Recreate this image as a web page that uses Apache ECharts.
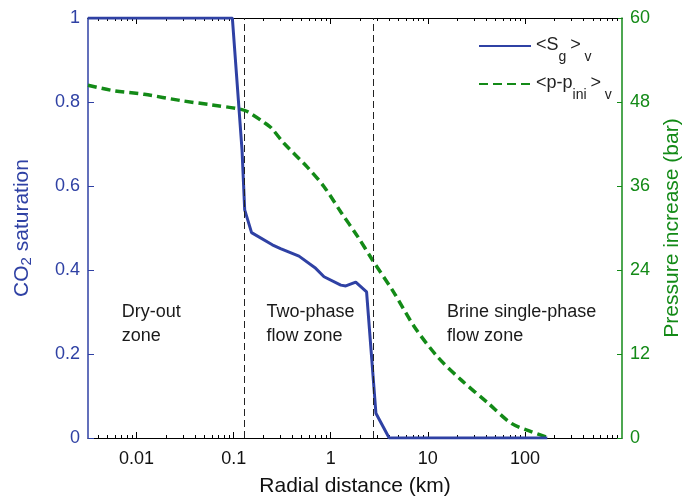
<!DOCTYPE html>
<html>
<head>
<meta charset="utf-8">
<script src="https://cdn.jsdelivr.net/npm/echarts@6/dist/echarts.min.js"></script>
<style>
  html, body { margin: 0; padding: 0; background: #fff; }
  #chart { width: 686px; height: 497px; }
</style>
</head>
<body>
<div id="chart"></div>
<script>
// Volume-averaged CO2 saturation and pressure increase versus radial distance
const satDistKm = [0.00316, 0.097, 0.122, 0.130, 0.153, 0.25, 0.304, 0.471, 0.70, 0.853, 1.27, 1.43, 1.81, 2.34, 2.92, 4.0, 170];
const satValues = [1, 1, 0.686, 0.543, 0.489, 0.46, 0.451, 0.433, 0.404, 0.384, 0.364, 0.362, 0.371, 0.348, 0.059, 0, 0];

const presDistKm = [0.00316, 0.0059, 0.012, 0.0287, 0.0586, 0.115, 0.14, 0.205, 0.244, 0.33, 0.574, 0.853, 1.27, 1.89, 2.70, 4.51, 7.26, 12.6, 22.0, 41.6, 72.4, 116, 170];
const presBar = [50.4, 49.6, 49.1, 48.2, 47.6, 47.0, 46.6, 45.1, 44.3, 42.1, 38.7, 35.9, 32.3, 28.8, 25.4, 20.7, 15.9, 11.6, 8.3, 5.0, 2.1, 0.9, 0.1];

// Zone boundaries (km)
const zoneBounds = [0.13, 2.75];

// Zone annotations: [x (km), CO2 saturation, text]
const zoneLabels = [
  [0.00703, 0.271, 'Dry-out\nzone'],
  [0.218, 0.271, 'Two-phase\nflow zone'],
  [15.8, 0.271, 'Brine single-phase\nflow zone']
];

// Axis ticks
const xMin = Math.pow(10, -2.5);
const xMax = 1000;
const xMajorTicks = [0.01, 0.1, 1, 10, 100];
const xMinorTicks = [];
for (let d = -3; d <= 2; d++) {
  for (let k = 2; k <= 9; k++) {
    const v = +(k * Math.pow(10, d)).toPrecision(6);
    if (v > xMin && v < xMax) xMinorTicks.push(v);
  }
}

const BLUE = '#2f41a4';
const GREEN = '#138a17';
const FONT = '"Liberation Sans", Arial, Helvetica, sans-serif';

const chart = echarts.init(document.getElementById('chart'), null, { renderer: 'canvas' });

function xAxisDef(position, ticks, len, withLabels, withLine) {
  return {
    type: 'log',
    logBase: 10,
    min: xMin,
    max: xMax,
    position: position,
    axisLine: { show: withLine, onZero: false, lineStyle: { color: '#000', width: 1 } },
    axisTick: { show: true, inside: true, length: len, customValues: ticks, lineStyle: { color: '#000', width: 1 } },
    axisLabel: withLabels ? {
      show: true, customValues: xMajorTicks, color: '#111', fontSize: 18, fontFamily: FONT, margin: 12,
      formatter: v => String(+(+v).toPrecision(6))
    } : { show: false },
    splitLine: { show: false },
    minorTick: { show: false }
  };
}

const xAxes = [
  Object.assign(xAxisDef('bottom', xMajorTicks, 6, true, true), {
    name: 'Radial distance (km)',
    nameLocation: 'middle',
    nameGap: 38,
    nameTextStyle: { color: '#111', fontSize: 21, fontFamily: FONT }
  }),
  xAxisDef('bottom', xMinorTicks, 3, false, false),
  xAxisDef('top', xMajorTicks, 6, false, true),
  xAxisDef('top', xMinorTicks, 3, false, false)
];

const option = {
  animation: false,
  backgroundColor: '#fff',
  textStyle: { fontFamily: FONT },
  grid: { left: 88, right: 64, top: 18, bottom: 59, containLabel: false, outerBoundsMode: 'none' },
  legend: {
    orient: 'vertical',
    left: 473,
    top: 31,
    itemWidth: 52,
    itemHeight: 12,
    itemGap: 10,
    itemStyle: { opacity: 0 },
    textStyle: {
      color: '#222', fontSize: 18, fontFamily: FONT,
      rich: {
        m: { fontSize: 18, lineHeight: 20, verticalAlign: 'top', fontFamily: FONT, color: '#222' },
        s: { fontSize: 14, lineHeight: 16, padding: [14, 0, 0, 0], verticalAlign: 'top', fontFamily: FONT, color: '#222' }
      }
    },
    formatter: name => name === 'sat'
      ? '{m|<S}{s|g }{m|>}{s| v}'
      : '{m|<p-p}{s|ini }{m|>}{s| v}',
    data: ['sat', 'pres']
  },
  xAxis: xAxes,
  yAxis: [
    {
      type: 'value', position: 'left', min: 0, max: 1, interval: 0.2,
      axisLine: { show: true, lineStyle: { color: BLUE, width: 1.5 } },
      axisTick: { show: true, inside: true, length: 6, lineStyle: { color: BLUE } },
      axisLabel: { color: BLUE, fontSize: 18, fontFamily: FONT, margin: 8, formatter: v => String(+v.toFixed(2)) },
      splitLine: { show: false },
      name: 'CO{sub|2} saturation',
      nameLocation: 'middle',
      nameGap: 54,
      nameRotate: 90,
      nameTextStyle: {
        color: BLUE, fontSize: 21, fontFamily: FONT,
        rich: { sub: { fontSize: 15, color: BLUE, fontFamily: FONT, padding: [8, 0, 0, 0] } }
      }
    },
    {
      type: 'value', position: 'right', min: 0, max: 60, interval: 12,
      axisLine: { show: true, lineStyle: { color: GREEN, width: 1.5 } },
      axisTick: { show: true, inside: true, length: 5, lineStyle: { color: GREEN } },
      axisLabel: { color: GREEN, fontSize: 18, fontFamily: FONT, margin: 8 },
      splitLine: { show: false },
      name: 'Pressure increase (bar)',
      nameLocation: 'middle',
      nameGap: 40,
      nameRotate: 90,
      nameTextStyle: { color: GREEN, fontSize: 21, fontFamily: FONT }
    }
  ],
  series: [
    {
      name: 'sat',
      type: 'line',
      xAxisIndex: 0,
      yAxisIndex: 0,
      data: satDistKm.map((x, i) => [x, satValues[i]]),
      symbol: 'none',
      color: BLUE,
      lineStyle: { color: BLUE, width: 3 },
      z: 4,
      markLine: {
        silent: true,
        symbol: ['none', 'none'],
        label: { show: false },
        lineStyle: { color: '#222', width: 1, type: [7, 4] },
        data: zoneBounds.map(v => ({ xAxis: v }))
      }
    },
    {
      name: 'pres',
      type: 'line',
      xAxisIndex: 0,
      yAxisIndex: 1,
      data: presDistKm.map((x, i) => [x, presBar[i]]),
      symbol: 'none',
      smooth: 0.3,
      color: GREEN,
      lineStyle: { color: GREEN, width: 3.5, type: [9, 5] },
      z: 3
    },
    {
      name: 'zones',
      type: 'scatter',
      xAxisIndex: 0,
      yAxisIndex: 0,
      symbolSize: 0,
      silent: true,
      itemStyle: { opacity: 1 },
      data: zoneLabels.map(d => ({ value: [d[0], d[1]], text: d[2] })),
      label: {
        show: true,
        position: 'right',
        distance: 0,
        align: 'left',
        color: '#1a1a1a',
        fontSize: 18,
        lineHeight: 24,
        fontFamily: FONT,
        formatter: p => p.data.text
      }
    }
  ]
};

chart.setOption(option);
</script>
</body>
</html>
